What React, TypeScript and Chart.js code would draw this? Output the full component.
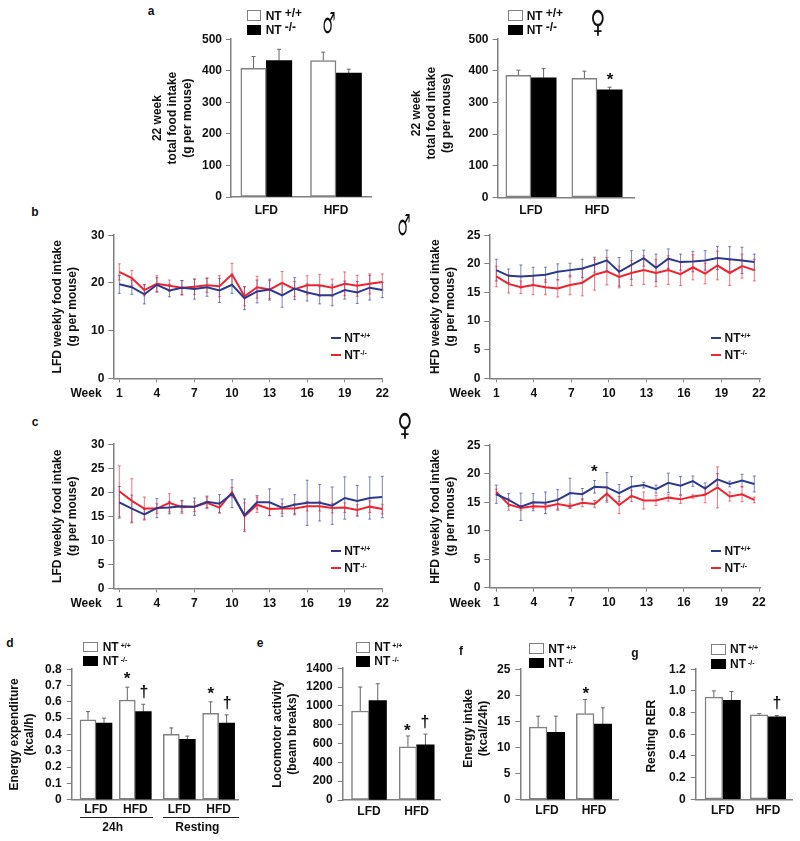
import React, { useEffect, useRef } from "react";
import { Chart, registerables } from "chart.js";

Chart.register(...registerables);

/* ---------- data ---------- */
const dietLabels = ["LFD", "HFD"];
const dietPositions = [1, 2];

const aMaleWt = [408, 432];
const aMaleWtErr = [37, 27];
const aMaleKo = [432, 393];
const aMaleKoErr = [36, 12];
const aFemaleWt = [386, 376];
const aFemaleWtErr = [16, 23];
const aFemaleKo = [378, 340];
const aFemaleKoErr = [29, 8];
const aTicks = [0, 100, 200, 300, 400, 500];
const aTickLabels = ["0", "100", "200", "300", "400", "500"];

const weeks = [1, 2, 3, 4, 5, 6, 7, 8, 9, 10, 11, 12, 13, 14, 15, 16, 17, 18, 19, 20, 21, 22];
const weekTicks = [1, 4, 7, 10, 13, 16, 19, 22];

const bLfdWt = [19.7, 19.1, 17.6, 19.6, 18.4, 19.0, 18.7, 19.1, 18.4, 19.6, 16.8, 18.2, 18.6, 17.4, 18.8, 18.0, 17.4, 17.4, 18.5, 18.0, 19.0, 18.5];
const bLfdWtErr = [1.9, 1.5, 2.0, 1.5, 1.3, 1.5, 2.1, 1.9, 2.5, 1.8, 2.4, 2.4, 2.2, 2.5, 2.3, 1.8, 1.8, 2.2, 1.9, 2.3, 2.6, 1.6];
const bLfdKo = [22.3, 21.0, 18.5, 19.8, 19.4, 19.0, 19.2, 19.5, 19.3, 21.8, 17.2, 19.1, 18.6, 20.0, 18.7, 19.5, 19.5, 19.0, 19.8, 19.4, 19.8, 20.2];
const bLfdKoErr = [1.7, 1.6, 1.2, 1.7, 1.2, 1.5, 1.6, 1.5, 2.2, 2.3, 2.0, 2.3, 1.9, 2.4, 1.6, 2.0, 2.3, 1.8, 2.5, 2.2, 2.1, 1.7];

const bHfdWt = [18.9, 17.9, 17.8, 17.9, 18.1, 18.6, 18.9, 19.2, 19.85, 20.6, 18.6, 19.8, 21.0, 19.3, 20.9, 20.3, 20.4, 20.6, 21.0, 20.8, 20.6, 20.3];
const bHfdWtErr = [1.9, 1.2, 2.0, 1.5, 1.3, 1.4, 1.2, 1.6, 1.3, 1.8, 2.5, 2.5, 1.4, 2.4, 1.7, 1.4, 1.8, 1.7, 2.0, 2.2, 2.3, 1.4];
const bHfdKo = [17.8, 16.5, 15.9, 16.3, 15.9, 15.7, 16.3, 16.7, 18.1, 18.7, 17.7, 18.4, 18.9, 18.4, 18.9, 18.2, 19.4, 18.3, 19.7, 18.4, 19.6, 18.9];
const bHfdKoErr = [1.8, 1.6, 1.1, 1.7, 1.3, 1.5, 1.7, 2.3, 2.7, 2.4, 1.9, 2.2, 2.5, 2.4, 2.5, 2.0, 2.2, 1.8, 2.5, 2.2, 2.1, 1.9];

const cLfdWt = [17.9, 16.6, 15.4, 16.7, 16.8, 17.1, 17.0, 18.0, 17.6, 19.7, 15.2, 17.9, 17.9, 16.8, 17.4, 17.8, 17.8, 17.2, 18.8, 18.2, 18.8, 19.0];
const cLfdWtErr = [3.3, 2.8, 1.0, 2.0, 1.3, 1.2, 1.8, 1.2, 1.9, 2.9, 3.4, 1.4, 2.8, 1.8, 2.1, 4.7, 3.8, 3.9, 4.4, 3.2, 4.4, 4.3];
const cLfdKo = [20.2, 18.2, 16.6, 16.6, 17.8, 16.9, 17.0, 17.8, 16.8, 20.0, 15.0, 17.4, 16.5, 16.6, 16.6, 17.1, 17.1, 16.7, 16.8, 16.3, 17.0, 16.5];
const cLfdKoErr = [5.3, 4.6, 2.4, 1.0, 1.9, 1.3, 1.0, 1.2, 1.1, 1.0, 2.8, 1.6, 1.3, 1.0, 1.0, 1.0, 1.0, 1.0, 1.0, 1.1, 1.2, 1.0];

const cHfdWt = [16.4, 15.4, 14.2, 15.0, 14.9, 15.4, 16.6, 16.4, 17.7, 17.6, 16.6, 17.7, 18.0, 17.3, 18.4, 17.9, 18.7, 17.4, 19.0, 18.2, 18.8, 18.2];
const cHfdWtErr = [1.6, 1.1, 2.4, 1.5, 1.9, 1.8, 2.6, 1.0, 1.1, 2.6, 1.5, 1.8, 0.5, 0.7, 1.7, 1.6, 0.9, 1.0, 1.0, 0.5, 1.1, 1.4];
const cHfdKo = [16.8, 14.6, 14.0, 14.3, 14.2, 14.7, 14.3, 14.9, 14.7, 16.5, 14.5, 16.1, 15.3, 15.3, 15.8, 15.5, 16.0, 16.3, 17.6, 16.0, 16.4, 15.4];
const cHfdKoErr = [0.5, 1.0, 0.4, 0.4, 0.4, 0.9, 0.4, 0.7, 0.6, 1.2, 1.5, 1.0, 1.5, 0.9, 0.6, 0.7, 0.3, 1.4, 3.6, 0.8, 1.3, 0.5];

const ticks30 = [0, 10, 20, 30];
const ticks30Labels = ["0", "10", "20", "30"];
const ticks30By5 = [0, 5, 10, 15, 20, 25, 30];
const ticks30By5Labels = ["0", "5", "10", "15", "20", "25", "30"];
const ticks25 = [0, 5, 10, 15, 20, 25];
const ticks25Labels = ["0", "5", "10", "15", "20", "25"];

const dLabels = ["LFD", "HFD", "LFD", "HFD"];
const dPositions = [1, 2, 3.12, 4.12];
const dWt = [0.49, 0.61, 0.4, 0.53];
const dWtErr = [0.05, 0.08, 0.04, 0.07];
const dKo = [0.47, 0.54, 0.37, 0.47];
const dKoErr = [0.03, 0.045, 0.02, 0.05];
const dTicks = [0, 0.1, 0.2, 0.3, 0.4, 0.5, 0.6, 0.7, 0.8];
const dTickLabels = ["0", "0.1", "0.2", "0.3", "0.4", "0.5", "0.6", "0.7", "0.8"];

const eWt = [945, 565];
const eWtErr = [255, 115];
const eKo = [1055, 585];
const eKoErr = [180, 115];
const eTicks = [0, 200, 400, 600, 800, 1000, 1200, 1400];
const eTickLabels = ["0", "200", "400", "600", "800", "1000", "1200", "1400"];

const fWt = [13.9, 16.5];
const fWtErr = [2.1, 2.7];
const fKo = [12.9, 14.5];
const fKoErr = [3.1, 3.1];
const fTicks = [0, 5, 10, 15, 20, 25];
const fTickLabels = ["0", "5", "10", "15", "20", "25"];

const gWt = [0.942, 0.78];
const gWtErr = [0.058, 0.01];
const gKo = [0.912, 0.76];
const gKoErr = [0.082, 0.013];
const gTicks = [0, 0.2, 0.4, 0.6, 0.8, 1.0, 1.2];
const gTickLabels = ["0", "0.2", "0.4", "0.6", "0.8", "1.0", "1.2"];

/* ---------- style ---------- */
const FONT = '"Liberation Sans", Arial, sans-serif';
const INK = "#111";
const AXIS = "#808080";
const BLUE = "#2b3a8f";
const RED = "#ee2430";

const errorBars = {
  id: "errorBars",
  beforeDatasetsDraw(chart: any) {
    const { ctx } = chart;
    const yScale = chart.scales.y;
    chart.data.datasets.forEach((ds: any, di: number) => {
      const meta = chart.getDatasetMeta(di);
      ctx.save();
      ctx.strokeStyle = ds.errColor;
      ctx.lineWidth = 1;
      meta.data.forEach((el: any, i: number) => {
        const v = ds.data[i].y;
        const e = ds.err[i];
        const x = el.x;
        const top = yScale.getPixelForValue(v + e);
        const bot = yScale.getPixelForValue(ds.both ? v - e : v);
        ctx.beginPath();
        ctx.moveTo(x, bot);
        ctx.lineTo(x, top);
        ctx.moveTo(x - ds.cap, top);
        ctx.lineTo(x + ds.cap, top);
        if (ds.both) {
          ctx.moveTo(x - ds.cap, bot);
          ctx.lineTo(x + ds.cap, bot);
        }
        ctx.stroke();
      });
      ctx.restore();
    });
  },
};

function xRange(l: number, r: number, c1: number, c2: number, p1: number, p2: number) {
  const step = (c2 - c1) / (p2 - p1);
  return { min: p1 - (c1 - l) / step, max: p2 + (r - c2) / step };
}

const tickFont = { family: FONT, size: 12, weight: "bold" as const };

function yAxis(box: any, max: number, ticks: number[], labels: string[], title: string[], widthPx: number, dy: number, pad: number) {
  return {
    type: "linear",
    position: "left",
    min: 0,
    max,
    afterBuildTicks: (s: any) => {
      s.ticks = ticks.map((value) => ({ value }));
    },
    afterFit: (s: any) => {
      s.width = widthPx;
      if (dy && !s.__shifted) {
        s.__shifted = true;
        const orig = s.drawTitle;
        s.drawTitle = function (...args: any[]) {
          s.ctx.save();
          s.ctx.translate(0, dy);
          orig.apply(s, args);
          s.ctx.restore();
        };
      }
    },
    ticks: {
      autoSkip: false,
      color: INK,
      font: tickFont,
      padding: pad,
      callback: (_v: any, i: number) => labels[i],
    },
    grid: { drawOnChartArea: false, drawTicks: true, tickLength: 5, color: AXIS, lineWidth: 1 },
    border: { display: true, color: AXIS, width: 1.5 },
    title: {
      display: true,
      text: title,
      color: INK,
      font: { family: FONT, size: 12, weight: "bold", lineHeight: 1.25 },
      padding: { top: 1, bottom: 0 },
    },
  };
}

type Geo = { l: number; t: number; r: number; b: number; titleX: number; dy?: number };

function geometry(g: Geo) {
  const left = Math.floor(g.titleX - 8.5);
  const top = Math.floor(g.t - 10);
  const width = Math.ceil(g.r + 16 - left);
  const height = Math.ceil(g.b + 24 - top);
  return {
    left,
    top,
    width,
    height,
    padding: { left: 0, top: g.t - top, right: width - (g.r - left), bottom: 0 },
    yWidth: g.l - left,
    xHeight: height - (g.b - top),
  };
}

function barPanel(opts: {
  geo: Geo;
  centers: [number, number];
  thickness: number;
  labels: string[];
  positions: number[];
  wt: number[];
  wtErr: number[];
  ko: number[];
  koErr: number[];
  yMax: number;
  yTicks: number[];
  yLabels: string[];
  title: string[];
  xPad: number;
  yPad: number;
}) {
  const { geo, positions, labels } = opts;
  const g = geometry(geo);
  const range = xRange(geo.l, geo.r, opts.centers[0], opts.centers[1], positions[0], positions[1]);
  const pts = (vals: number[]) => vals.map((y, i) => ({ x: positions[i], y }));
  const config = {
    type: "bar",
    plugins: [errorBars],
    data: {
      datasets: [
        {
          label: "NT +/+",
          data: pts(opts.wt),
          err: opts.wtErr,
          errColor: "#666",
          cap: 2,
          both: false,
          backgroundColor: "#fff",
          borderColor: AXIS,
          borderWidth: 1.5,
          borderSkipped: false,
          barThickness: opts.thickness,
        },
        {
          label: "NT -/-",
          data: pts(opts.ko),
          err: opts.koErr,
          errColor: "#666",
          cap: 2,
          both: false,
          backgroundColor: "#000",
          borderColor: "#000",
          borderWidth: 0,
          barThickness: opts.thickness,
        },
      ],
    },
    options: {
      responsive: false,
      animation: false,
      layout: { padding: g.padding },
      plugins: { legend: { display: false }, tooltip: { enabled: false } },
      scales: {
        x: {
          type: "linear",
          offset: false,
          min: range.min,
          max: range.max,
          afterBuildTicks: (s: any) => {
            s.ticks = positions.map((value) => ({ value }));
          },
          afterFit: (s: any) => {
            s.height = g.xHeight;
          },
          ticks: {
            autoSkip: false,
            maxRotation: 0,
            color: INK,
            font: tickFont,
            padding: opts.xPad,
            callback: (_v: any, i: number) => labels[i],
          },
          grid: { drawOnChartArea: false, drawTicks: false, offset: false },
          border: { display: true, color: AXIS, width: 1.5 },
        },
        y: yAxis(geo, opts.yMax, opts.yTicks, opts.yLabels, opts.title, g.yWidth, geo.dy || 0, opts.yPad),
      },
    },
  };
  return { g, config };
}

function linePanel(opts: {
  geo: Geo;
  tick1: number;
  tick22: number;
  data1: number;
  data22: number;
  wt: number[];
  wtErr: number[];
  ko: number[];
  koErr: number[];
  yMax: number;
  yTicks: number[];
  yLabels: string[];
  title: string[];
}) {
  const { geo } = opts;
  const g = geometry(geo);
  const tickRange = xRange(geo.l, geo.r, opts.tick1, opts.tick22, 1, 22);
  const dataRange = xRange(geo.l, geo.r, opts.data1, opts.data22, 1, 22);
  const pts = (vals: number[]) => vals.map((y, i) => ({ x: weeks[i], y }));
  const config = {
    type: "line",
    plugins: [errorBars],
    data: {
      datasets: [
        {
          label: "NT+/+",
          data: pts(opts.wt),
          err: opts.wtErr,
          errColor: "rgba(43,58,143,0.62)",
          cap: 1.5,
          both: true,
          borderColor: BLUE,
          borderWidth: 2,
          pointRadius: 0,
          tension: 0,
          xAxisID: "xd",
        },
        {
          label: "NT-/-",
          data: pts(opts.ko),
          err: opts.koErr,
          errColor: "rgba(238,36,48,0.62)",
          cap: 1.5,
          both: true,
          borderColor: RED,
          borderWidth: 2,
          pointRadius: 0,
          tension: 0,
          xAxisID: "xd",
        },
      ],
    },
    options: {
      responsive: false,
      animation: false,
      layout: { padding: g.padding },
      plugins: { legend: { display: false }, tooltip: { enabled: false } },
      scales: {
        xd: { type: "linear", display: false, min: dataRange.min, max: dataRange.max },
        x: {
          type: "linear",
          position: "bottom",
          min: tickRange.min,
          max: tickRange.max,
          afterBuildTicks: (s: any) => {
            s.ticks = weekTicks.map((value) => ({ value }));
          },
          afterFit: (s: any) => {
            s.height = g.xHeight;
          },
          ticks: {
            autoSkip: false,
            maxRotation: 0,
            color: INK,
            font: tickFont,
            padding: 4,
            callback: (v: any) => String(v),
          },
          grid: { drawOnChartArea: false, drawTicks: true, tickLength: 4, color: AXIS, lineWidth: 1 },
          border: { display: true, color: AXIS, width: 1.5 },
        },
        y: yAxis(geo, opts.yMax, opts.yTicks, opts.yLabels, opts.title, g.yWidth, geo.dy || 0, 4),
      },
    },
  };
  return { g, config };
}

const foodTitle3 = ["22 week", "total food intake", "(g per mouse)"];

const panels = [
  barPanel({ geo: { l: 231, t: 38.7, r: 371, b: 197, titleX: 158.3 }, centers: [266.3, 336], thickness: 25.5, labels: dietLabels, positions: dietPositions, wt: aMaleWt, wtErr: aMaleWtErr, ko: aMaleKo, koErr: aMaleKoErr, yMax: 500, yTicks: aTicks, yLabels: aTickLabels, title: foodTitle3, xPad: 6, yPad: 4 }),
  barPanel({ geo: { l: 497.5, t: 38.7, r: 634, b: 197.3, titleX: 417, dy: -5 }, centers: [531, 597], thickness: 25.2, labels: dietLabels, positions: dietPositions, wt: aFemaleWt, wtErr: aFemaleWtErr, ko: aFemaleKo, koErr: aFemaleKoErr, yMax: 500, yTicks: aTicks, yLabels: aTickLabels, title: foodTitle3, xPad: 6, yPad: 4 }),
  linePanel({ geo: { l: 113.3, t: 234.3, r: 382.3, b: 378.3, titleX: 58.3 }, tick1: 119.3, tick22: 382.3, data1: 119.3, data22: 382.3, wt: bLfdWt, wtErr: bLfdWtErr, ko: bLfdKo, koErr: bLfdKoErr, yMax: 30, yTicks: ticks30, yLabels: ticks30Labels, title: ["LFD weekly food intake", "(g per mouse)"] }),
  linePanel({ geo: { l: 489.3, t: 234.3, r: 760, b: 378.3, titleX: 436 }, tick1: 496.3, tick22: 759, data1: 496.3, data22: 754.3, wt: bHfdWt, wtErr: bHfdWtErr, ko: bHfdKo, koErr: bHfdKoErr, yMax: 25, yTicks: ticks25, yLabels: ticks25Labels, title: ["HFD weekly food intake", "(g per mouse)"] }),
  linePanel({ geo: { l: 113.3, t: 443.3, r: 382.3, b: 588.3, titleX: 58.3 }, tick1: 119.3, tick22: 382.3, data1: 119.3, data22: 382.3, wt: cLfdWt, wtErr: cLfdWtErr, ko: cLfdKo, koErr: cLfdKoErr, yMax: 30, yTicks: ticks30By5, yLabels: ticks30By5Labels, title: ["LFD weekly food intake", "(g per mouse)"] }),
  linePanel({ geo: { l: 489.3, t: 444, r: 760, b: 587.7, titleX: 436 }, tick1: 496.3, tick22: 759, data1: 496.3, data22: 754.3, wt: cHfdWt, wtErr: cHfdWtErr, ko: cHfdKo, koErr: cHfdKoErr, yMax: 25, yTicks: ticks25, yLabels: ticks25Labels, title: ["HFD weekly food intake", "(g per mouse)"] }),
  barPanel({ geo: { l: 71.7, t: 667, r: 238.7, b: 799.7, titleX: 15 }, centers: [96, 135.3], thickness: 16, labels: dLabels, positions: dPositions, wt: dWt, wtErr: dWtErr, ko: dKo, koErr: dKoErr, yMax: 0.8, yTicks: dTicks, yLabels: dTickLabels, title: ["Energy expenditure", "(kcal/h)"], xPad: 3, yPad: 5 }),
  barPanel({ geo: { l: 342.7, t: 666.7, r: 440, b: 800, titleX: 278 }, centers: [369, 416.7], thickness: 17.5, labels: dietLabels, positions: dietPositions, wt: eWt, wtErr: eWtErr, ko: eKo, koErr: eKoErr, yMax: 1400, yTicks: eTicks, yLabels: eTickLabels, title: ["Locomotor activity", "(beam breaks)"], xPad: 4, yPad: 5 }),
  barPanel({ geo: { l: 520.3, t: 667.7, r: 618, b: 799.7, titleX: 469, dy: -6 }, centers: [547, 594], thickness: 17.7, labels: dietLabels, positions: dietPositions, wt: fWt, wtErr: fWtErr, ko: fKo, koErr: fKoErr, yMax: 25, yTicks: fTicks, yLabels: fTickLabels, title: ["Energy intake", "(kcal/24h)"], xPad: 4, yPad: 5 }),
  barPanel({ geo: { l: 695.7, t: 667.3, r: 792, b: 799.3, titleX: 651.7, dy: 2 }, centers: [722.7, 768], thickness: 17.7, labels: dietLabels, positions: dietPositions, wt: gWt, wtErr: gWtErr, ko: gKo, koErr: gKoErr, yMax: 1.2, yTicks: gTicks, yLabels: gTickLabels, title: ["Resting RER"], xPad: 4, yPad: 5 }),
];

/* ---------- text overlays ---------- */
function Txt({ x, y, children, size = 12, family = FONT, weight = "bold", sx = 1, sy = 1 }: any) {
  return (
    <div
      style={{
        position: "absolute",
        left: x,
        top: y,
        transform: `translate(-50%,-50%) scale(${sx},${sy})`,
        font: `${weight} ${size}px ${family}`,
        color: INK,
        whiteSpace: "nowrap",
        lineHeight: 1,
      }}
    >
      {children}
    </div>
  );
}

function LeftTxt({ x, y, children, size = 12 }: any) {
  return (
    <div
      style={{
        position: "absolute",
        left: x,
        top: y,
        transform: "translateY(-50%)",
        font: `bold ${size}px ${FONT}`,
        color: INK,
        whiteSpace: "nowrap",
        lineHeight: 1,
      }}
    >
      {children}
    </div>
  );
}

function Sup({ children, size, raise = 4, gap = 0 }: any) {
  return (
    <span style={{ fontSize: size, position: "relative", top: -raise, marginLeft: gap }}>{children}</span>
  );
}

function BoxLegend({ x, y1, y2, w = 14.5, h = 10.5, tx, ty1, ty2, wtSup, koSup, supSize, gap, raise }: any) {
  return (
    <>
      <div style={{ position: "absolute", left: x, top: y1, width: w, height: h, boxSizing: "border-box", border: `1.3px solid ${AXIS}`, background: "#fff" }} />
      <div style={{ position: "absolute", left: x, top: y2, width: w, height: h, background: "#000" }} />
      <LeftTxt x={tx} y={ty1}>
        NT<Sup size={supSize} gap={gap} raise={raise}>{wtSup}</Sup>
      </LeftTxt>
      <LeftTxt x={tx} y={ty2}>
        NT<Sup size={supSize} gap={gap} raise={raise}>{koSup}</Sup>
      </LeftTxt>
    </>
  );
}

function LineLegend({ x, y1, y2 }: any) {
  const line = (y: number, color: string) => (
    <div style={{ position: "absolute", left: x, top: y - 1, width: 10, height: 2, background: color }} />
  );
  return (
    <>
      {line(y1, BLUE)}
      {line(y2, RED)}
      <LeftTxt x={x + 13.5} y={y1}>
        NT<Sup size={7} raise={4}>+/+</Sup>
      </LeftTxt>
      <LeftTxt x={x + 13.5} y={y2}>
        NT<Sup size={7} raise={4}>-/-</Sup>
      </LeftTxt>
    </>
  );
}

const SYMBOL = '"DejaVu Sans", sans-serif';

export default function App() {
  const refs = useRef<(HTMLCanvasElement | null)[]>([]);
  useEffect(() => {
    const charts = panels.map((p, i) => new Chart(refs.current[i] as HTMLCanvasElement, p.config as any));
    return () => charts.forEach((c) => c.destroy());
  }, []);
  return (
    <div style={{ position: "absolute", left: 0, top: 0, width: 800, height: 841, background: "#fff", overflow: "hidden" }}>
      {panels.map((p, i) => (
        <canvas
          key={i}
          ref={(el) => {
            refs.current[i] = el;
          }}
          width={p.g.width}
          height={p.g.height}
          style={{ position: "absolute", left: p.g.left, top: p.g.top, width: p.g.width, height: p.g.height }}
        />
      ))}

      <Txt x={151} y={10.5}>a</Txt>
      <Txt x={35} y={212}>b</Txt>
      <Txt x={35} y={422}>c</Txt>
      <Txt x={10} y={643}>d</Txt>
      <Txt x={260} y={643}>e</Txt>
      <Txt x={461} y={651}>f</Txt>
      <Txt x={635} y={653}>g</Txt>

      <Txt x={328.5} y={23} size={24} family={SYMBOL} weight="normal" sx={0.62} sy={1.2}>♂</Txt>
      <Txt x={597.5} y={22} size={29} family={SYMBOL} weight="normal" sx={0.72} sy={1.05}>♀</Txt>
      <Txt x={404} y={224.5} size={24} family={SYMBOL} weight="normal" sx={0.62} sy={1.2}>♂</Txt>
      <Txt x={405} y={425} size={29} family={SYMBOL} weight="normal" sx={0.72} sy={1.05}>♀</Txt>

      <BoxLegend x={246.7} y1={10} y2={24.7} tx={265.7} ty1={15.5} ty2={30} wtSup="+/+" koSup="-/-" supSize={12} gap={3} raise={3} />
      <BoxLegend x={508.3} y1={10} y2={24.7} tx={526.7} ty1={15.5} ty2={30} wtSup="+/+" koSup="-/-" supSize={12} gap={3} raise={3} />
      <BoxLegend x={83} y1={641.7} y2={655.7} tx={102.7} ty1={646.7} ty2={661} wtSup="+/+" koSup="-/-" supSize={7} gap={2} raise={3} />
      <BoxLegend x={355.7} y1={642} y2={656} tx={374.3} ty1={646.7} ty2={661} wtSup="+/+" koSup="-/-" supSize={7} gap={2} raise={3} />
      <BoxLegend x={529.3} y1={643.3} y2={657.7} tx={548.3} ty1={649} ty2={663.3} wtSup="+/+" koSup="-/-" supSize={7} gap={2} raise={3} />
      <BoxLegend x={711} y1={644.3} y2={658.7} tx={730} ty1={649.3} ty2={664} wtSup="+/+" koSup="-/-" supSize={7} gap={2} raise={3} />

      <LineLegend x={330.7} y1={338} y2={354.7} />
      <LineLegend x={711} y1={338} y2={354.7} />
      <LineLegend x={330.7} y1={551.3} y2={568} />
      <LineLegend x={711} y1={551.3} y2={568} />

      <Txt x={86} y={393.3}>Week</Txt>
      <Txt x={465} y={393.3}>Week</Txt>
      <Txt x={86} y={603}>Week</Txt>
      <Txt x={465} y={603}>Week</Txt>

      <div style={{ position: "absolute", left: 80, top: 816.5, width: 73, height: 1, background: "#222" }} />
      <div style={{ position: "absolute", left: 163.3, top: 816.5, width: 75.4, height: 1, background: "#222" }} />
      <Txt x={112.7} y={827}>24h</Txt>
      <Txt x={197.3} y={827}>Resting</Txt>

      <Txt x={610} y={79} size={17}>*</Txt>
      <Txt x={594.3} y={471} size={17}>*</Txt>
      <Txt x={127} y={678} size={17}>*</Txt>
      <Txt x={144} y={692} size={16}>†</Txt>
      <Txt x={210.7} y={693} size={17}>*</Txt>
      <Txt x={227.3} y={703} size={16}>†</Txt>
      <Txt x={407.3} y={730} size={17}>*</Txt>
      <Txt x={425} y={722} size={16}>†</Txt>
      <Txt x={585.7} y={693} size={17}>*</Txt>
      <Txt x={777} y={703} size={16}>†</Txt>
    </div>
  );
}
